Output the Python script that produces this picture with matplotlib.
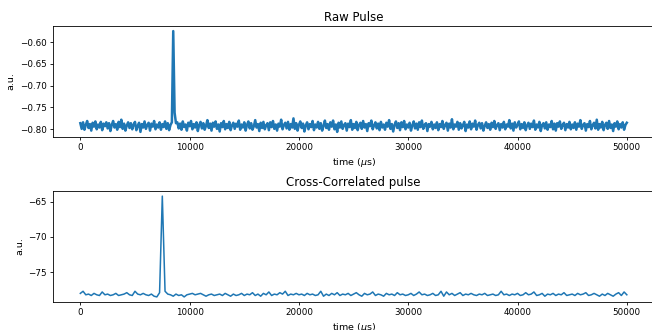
import numpy as np
from matplotlib import pyplot as plt

# raw pulse, one sample every 125 us, values in thousandths of a.u.
raw_step = 125
raw_milli = [
    -786, -799, -784, -801, -790, -781, -797, -788, -803, -785, -794, -782, -800, -789, -796, -783, -802, -787, -793, -784,
    -798, -786, -804, -790, -781, -796, -788, -801, -783, -795, -778, -799, -787, -803, -791, -784, -797, -786, -800, -789,
    -783, -802, -792, -785, -806, -788, -796, -782, -799, -790, -785, -803, -787, -794, -781, -800, -789, -796, -784, -801,
    -788, -795, -782, -799, -786, -802, -790, -784, -575, -762, -786, -784, -798, -787, -801, -782, -795, -789, -803, -785,
    -793, -781, -800, -788, -796, -784, -804, -790, -783, -798, -786, -801, -792, -779, -797, -787, -803, -785, -794, -782,
    -799, -789, -805, -786, -795, -781, -800, -788, -797, -783, -802, -791, -785, -799, -787, -794, -780, -801, -789, -796,
    -784, -803, -790, -782, -798, -786, -801, -793, -779, -796, -788, -804, -785, -797, -783, -800, -791, -786, -802, -784,
    -795, -781, -799, -789, -803, -787, -794, -778, -800, -790, -785, -798, -783, -801, -788, -796, -775, -799, -786, -803,
    -790, -782, -797, -787, -805, -791, -784, -800, -788, -795, -781, -802, -789, -796, -783, -799, -786, -803, -792, -780,
    -797, -788, -801, -784, -794, -780, -800, -789, -806, -785, -796, -782, -799, -790, -786, -803, -787, -795, -779, -801,
    -788, -797, -783, -802, -790, -785, -799, -781, -796, -788, -804, -786, -793, -780, -800, -791, -784, -798, -787, -802,
    -783, -796, -789, -801, -785, -794, -779, -799, -788, -805, -790, -782, -797, -786, -802, -784, -795, -781, -800, -789,
    -796, -785, -803, -791, -782, -798, -787, -801, -784, -795, -780, -799, -790, -786, -804, -788, -794, -783, -800, -789,
    -797, -784, -802, -788, -795, -781, -799, -790, -785, -803, -787, -796, -777, -800, -789, -794, -783, -801, -786, -798,
    -791, -783, -804, -789, -796, -782, -800, -787, -794, -780, -801, -790, -785, -798, -786, -803, -792, -784, -797, -788,
    -801, -785, -795, -781, -799, -790, -786, -802, -788, -796, -783, -800, -789, -794, -779, -798, -787, -803, -784, -796,
    -790, -782, -800, -788, -797, -784, -802, -791, -785, -799, -787, -795, -780, -801, -789, -796, -783, -804, -790, -786,
    -798, -784, -801, -789, -795, -781, -800, -787, -803, -786, -794, -782, -799, -790, -785, -802, -788, -796, -783, -800,
    -789, -797, -784, -801, -787, -794, -779, -799, -790, -786, -803, -788, -795, -781, -800, -791, -785, -798, -778, -801,
    -788, -796, -783, -802, -790, -785, -799, -781, -797, -789, -804, -786, -794, -782, -800, -788, -796, -784, -801, -790,
    -785,
]

# cross-correlated pulse, one sample every 250 us, values in tenths of a.u.
xcorr_step = 250
xcorr_tenths = [
    -780, -777, -782, -781, -783, -780, -782, -783, -778, -782, -781, -783, -782, -780, -783, -782, -781, -779, -782, -783,
    -777, -781, -782, -780, -782, -783, -781, -784, -785, -779, -642, -777, -781, -782, -784, -781, -783, -782, -785, -782,
    -781, -780, -782, -781, -780, -782, -784, -782, -781, -783, -782, -781, -783, -780, -782, -784, -781, -783, -782, -780,
    -783, -781, -782, -779, -783, -781, -784, -780, -782, -778, -783, -781, -782, -779, -781, -777, -783, -781, -782, -780,
    -782, -781, -783, -780, -782, -781, -783, -782, -777, -784, -781, -783, -780, -782, -779, -783, -781, -782, -780, -783,
    -781, -779, -782, -784, -780, -782, -781, -778, -783, -781, -782, -784, -780, -782, -781, -783, -779, -782, -781, -783,
    -782, -780, -783, -781, -778, -782, -781, -783, -782, -780, -783, -782, -777, -784, -778, -782, -780, -783, -781, -779,
    -783, -781, -782, -780, -782, -783, -781, -782, -780, -783, -782, -781, -783, -782, -777, -782, -781, -783, -781, -782,
    -780, -783, -782, -779, -782, -781, -778, -783, -782, -780, -784, -781, -782, -780, -783, -781, -782, -779, -783, -782,
    -781, -783, -780, -782, -781, -779, -783, -782, -780, -782, -784, -781, -783, -780, -782, -784, -781, -779, -783, -778,
    -782,
]

raw_t = np.arange(len(raw_milli)) * raw_step
raw = np.array(raw_milli) / 1000.0
xcorr_t = np.arange(len(xcorr_tenths)) * xcorr_step
xcorr = np.array(xcorr_tenths) / 10.0

plt.rcParams['font.family'] = 'DejaVu Sans'
fig = plt.figure(figsize=(6.52, 3.3), dpi=100)
ax1 = fig.add_axes([0.0813, 0.585, 0.922, 0.336])
ax2 = fig.add_axes([0.0813, 0.085, 0.922, 0.336])

ax1.plot(raw_t, raw, color='#1f77b4', lw=1.8)
ax1.set_title("Raw Pulse", fontsize=8.5, pad=4)
ax1.set_ylabel("a.u.", fontsize=6.8, labelpad=3)
ax1.set_xlabel("time ($\\mu$s)", fontsize=6.8, labelpad=3)

ax2.plot(xcorr_t, xcorr, color='#1f77b4', lw=1.1)
ax2.set_title("Cross-Correlated pulse", fontsize=8.5, pad=4)
ax2.set_ylabel("a.u.", fontsize=6.8, labelpad=3)
ax2.set_xlabel("time ($\\mu$s)", fontsize=6.8, labelpad=3)

for ax in (ax1, ax2):
    ax.tick_params(labelsize=6.3, length=2.5, width=0.6, pad=2)
    for s in ax.spines.values():
        s.set_linewidth(0.6)
ax2.set_yticks([-75, -70, -65])

fig.savefig("out.png", dpi=100)
